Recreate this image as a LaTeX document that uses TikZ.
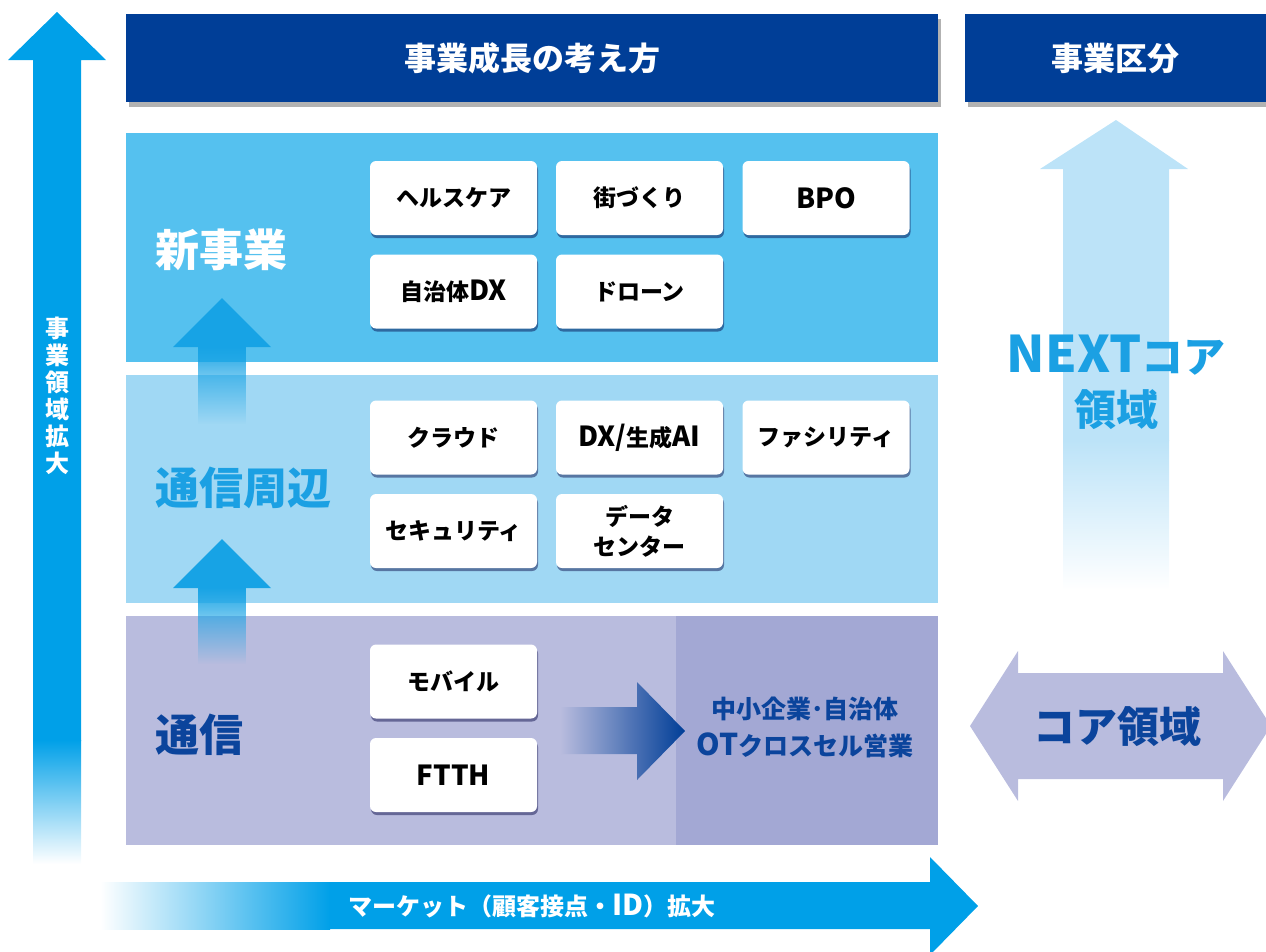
\documentclass[tikz,border=0pt]{standalone}
\usepackage{fontspec}
\setmainfont{Noto Sans CJK JP}
\newfontfamily\latin{Noto Sans CJK JP}[Scale=1.2]
\usetikzlibrary{shadows,fadings}
\definecolor{hdr}{HTML}{003E97}
\definecolor{rowA}{HTML}{55C1EF}
\definecolor{rowB}{HTML}{A0D8F4}
\definecolor{rowC}{HTML}{B9BCDE}
\definecolor{rowCd}{HTML}{A3A8D4}
\definecolor{arrowblue}{HTML}{00A0E8}
\definecolor{midblue}{HTML}{17A3E5}
\definecolor{nextblue}{HTML}{BCE3F8}
\definecolor{navy}{HTML}{0B449C}
\definecolor{skytext}{HTML}{1BA0E3}
\tikzset{
  hdrbox/.style={fill=hdr, text=white, inner sep=0pt, minimum height=88pt,
    font=\fontsize{32}{36}\selectfont\bfseries,
    drop shadow={shadow xshift=3pt, shadow yshift=-5pt, fill=black, opacity=0.3}},
  wbox/.style={fill=white, rounded corners=6pt, minimum width=167pt, minimum height=74pt,
    inner sep=0pt, align=center, text=black,
    font=\fontsize{23}{28}\selectfont\bfseries,
    drop shadow={shadow xshift=1pt, shadow yshift=-3pt, fill=black!75!blue, opacity=0.45}},
  rowlabel/.style={anchor=west, inner sep=0pt, font=\fontsize{44}{48}\selectfont\bfseries},
}
\begin{document}
\begin{tikzpicture}[x=1pt,y=-1pt]
\useasboundingbox (0,0) rectangle (1266,951);

% left vertical arrow
\fill[arrowblue] (57,12) -- (106,60) -- (81,60) -- (81,741) -- (33,741) -- (33,60) -- (8,60) -- cycle;
\shade[top color=arrowblue, bottom color=white] (33,740) rectangle (81,864);
\node[text=white, align=center, inner sep=0pt,
  font=\fontsize{24}{27}\selectfont\bfseries] (vlabel) at (57,396) {事\\業\\領\\域\\拡\\大};

% headers
\node[hdrbox, minimum width=812pt] (h1) at (532,58) {事業成長の考え方};
\node[hdrbox, minimum width=301pt] (h2) at (1115.5,58) {事業区分};

% rows
\fill[rowA] (126,133) rectangle (938,362);
\fill[rowB] (126,375) rectangle (938,603);
\fill[rowC] (126,616) rectangle (938,845);
\fill[rowCd] (676,616) rectangle (938,845);

% small up arrows
\fill[midblue] (222,298) -- (271,347) -- (173,347) -- cycle;
\fill[midblue, path fading=south] (198,346) rectangle (246,424);
\fill[midblue] (222,539) -- (271,588) -- (173,588) -- cycle;
\fill[midblue, path fading=south] (198,587) rectangle (246,664);

% row labels
\node[rowlabel, text=white] (lA) at (155,250) {新事業};
\node[rowlabel, text=skytext] (lB) at (155,488) {通信周辺};
\node[rowlabel, text=navy] (lC) at (155,735) {通信};

% boxes
\node[wbox] (b1) at (453.5,198) {ヘルスケア};
\node[wbox] (b2) at (639.5,198) {街づくり};
\node[wbox] (b3) at (826,198) {{\latin BPO}};
\node[wbox] (b4) at (453.5,291.5) {自治体{\latin DX}};
\node[wbox] (b5) at (639.5,291.5) {ドローン};
\node[wbox] (b6) at (453.5,437.5) {クラウド};
\node[wbox] (b7) at (639.5,437.5) {{\latin DX/}生成{\latin AI}};
\node[wbox] (b8) at (826,437.5) {ファシリティ};
\node[wbox] (b9) at (453.5,531) {セキュリティ};
\node[wbox, font=\fontsize{23}{30}\selectfont\bfseries] (b10) at (639.5,531) {データ\\センター};
\node[wbox] (b11) at (453.5,681.5) {モバイル};
\node[wbox] (b12) at (453.5,775) {{\latin FTTH}};

% horizontal gradient arrow
\shade[left color=rowC, right color=hdr]
  (560,707) -- (637,707) -- (637,682) -- (685,731) -- (637,780) -- (637,754) -- (560,754) -- cycle;
\node[text=navy, align=center, inner sep=0pt,
  font=\fontsize{25}{37}\selectfont\bfseries] (ot) at (805,727) {中小企業･自治体\\{\latin OT}クロスセル営業};

% NEXT arrow
\fill[nextblue] (1116,120) -- (1188,169) -- (1169,169) -- (1169,441) -- (1063,441) -- (1063,169) -- (1040,169) -- cycle;
\shade[top color=nextblue, bottom color=white] (1063,440) rectangle (1169,590);
\node[text=skytext, align=center, inner sep=0pt,
  font=\fontsize{42}{53}\selectfont\bfseries] (next) at (1116,382) {{\latin NEXT}コア\\領域};

% core double arrow
\fill[rowC] (970,726) -- (1018,651) -- (1018,673) -- (1223,673) -- (1223,651) -- (1271,726)
  -- (1223,801) -- (1223,779) -- (1018,779) -- (1018,801) -- cycle;
\node[text=navy, inner sep=0pt, font=\fontsize{42}{46}\selectfont\bfseries] (core) at (1117,727) {コア領域};

% bottom arrow
\shade[left color=white, right color=arrowblue] (100,882) rectangle (330,929);
\fill[arrowblue] (329,882) -- (930,882) -- (930,857) -- (978,906) -- (930,955) -- (930,929) -- (329,929) -- cycle;
\node[text=white, inner sep=0pt, font=\fontsize{24}{28}\selectfont\bfseries] (market) at (532,906) {マーケット（顧客接点・{\latin ID}）拡大};
\end{tikzpicture}
\end{document}
